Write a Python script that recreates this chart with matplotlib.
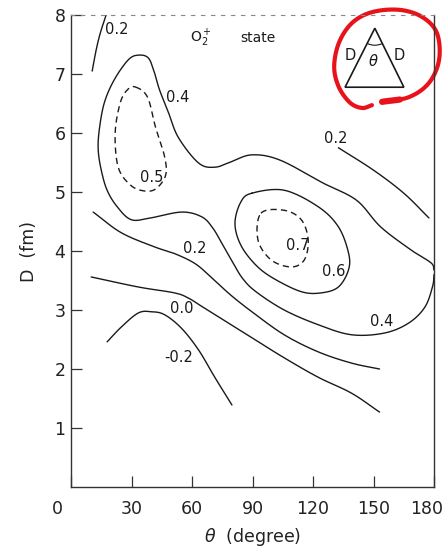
import numpy as np
import matplotlib
matplotlib.use("Agg")
import matplotlib.pyplot as plt
from matplotlib.patches import Arc, Polygon
from matplotlib.transforms import ScaledTranslation

# ---------------- data (theta in degrees, D in fm) ----------------
c02_top_theta = [10.5, 12.5, 14.5, 17.4]
c02_top_D = [7.05, 7.41, 7.69, 8.0]

c04_theta = [180, 178.5, 168.5, 153.5, 141.6, 125.1, 103.7, 89.7, 79.3, 71.3, 63.3, 53.3,
             48.4, 43.9, 41.4, 38.4, 33.4, 28.4, 21.4, 16.5, 14.0, 13.5, 15.0, 17.9,
             22.9, 29.9, 39.4, 54.8, 64.8, 70.3, 75.3, 80.3, 85.2, 91.7, 105.7, 122.6,
             139.1, 155.5, 167.5, 175.5, 179.3, 180]
c04_D = [3.68, 3.80, 4.02, 4.41, 4.86, 5.15, 5.54, 5.63, 5.51, 5.42, 5.49, 5.92,
         6.34, 6.73, 7.02, 7.27, 7.32, 7.24, 6.90, 6.51, 6.05, 5.71, 5.37, 5.03,
         4.75, 4.53, 4.56, 4.66, 4.58, 4.39, 4.10, 3.80, 3.53, 3.31, 3.00, 2.75,
         2.58, 2.61, 2.78, 3.05, 3.40, 3.60]

c05_theta = [31.9, 37.9, 41.9, 46.4, 46.9, 41.9, 35.9, 29.4, 23.4, 21.9, 24.4, 27.9]
c05_D = [6.78, 6.61, 6.10, 5.60, 5.28, 5.05, 5.02, 5.12, 5.42, 6.00, 6.51, 6.73]

c06_theta = [89.7, 84.2, 81.3, 84.2, 91.7, 100.7, 114.2, 124.1, 132.6, 137.6, 137.6, 132.6, 122.6, 105.7]
c06_D = [4.98, 4.83, 4.47, 4.10, 3.76, 3.53, 3.31, 3.29, 3.39, 3.68, 3.97, 4.41, 4.75, 5.03]

c07_theta = [94.2, 105.7, 114.2, 117.6, 115.7, 109.2, 99.2, 92.7]
c07_D = [4.64, 4.69, 4.53, 4.19, 3.85, 3.73, 3.85, 4.19]

c02_low_theta = [11.0, 24.9, 41.4, 51.8, 61.8, 70.3, 79.3, 89.7, 105.7, 122.6, 139.1, 153.0]
c02_low_D = [4.66, 4.31, 4.07, 3.95, 3.78, 3.53, 3.25, 2.97, 2.58, 2.29, 2.10, 2.00]

c02_right_theta = [132.6, 150.0, 165.0, 177.5]
c02_right_D = [5.75, 5.37, 4.98, 4.56]

c00_theta = [10.0, 33.4, 51.3, 58.3, 66.3, 89.7, 105.7, 122.6, 139.1, 153.0]
c00_D = [3.56, 3.39, 3.29, 3.20, 3.03, 2.53, 2.19, 1.86, 1.59, 1.27]

cm02_theta = [17.9, 24.9, 33.4, 39.9, 46.4, 54.8, 63.3, 71.3, 79.8]
cm02_D = [2.46, 2.71, 2.95, 2.97, 2.92, 2.69, 2.32, 1.86, 1.39]

label_text = ["0.2", "0.4", "0.5", "0.2", "0.7", "0.6", "0.4", "0.0", "-0.2", "0.2"]
label_theta = [22.9, 52.8, 39.9, 61.3, 112.2, 130.1, 154.0, 54.8, 53.3, 131.1]
label_D = [7.75, 6.61, 5.25, 4.05, 4.10, 3.66, 2.81, 3.02, 2.20, 5.90]

x_ticks = [0, 30, 60, 90, 120, 150, 180]
y_ticks = [1, 2, 3, 4, 5, 6, 7, 8]


def smooth(xs, ys, closed=False, n=14):
    sx, sy = 363 / 180.0, 472 / 8.0
    P = np.column_stack([np.asarray(xs, float) * sx, np.asarray(ys, float) * sy])
    if closed:
        pts = np.vstack([P[-1], P, P[0], P[1]])
    else:
        pts = np.vstack([2 * P[0] - P[1], P, 2 * P[-1] - P[-2]])
    out = []
    t = np.linspace(0, 1, n, endpoint=False)[:, None]
    for i in range(len(pts) - 3):
        p0, p1, p2, p3 = pts[i], pts[i + 1], pts[i + 2], pts[i + 3]
        seg = 0.5 * ((2 * p1) + (-p0 + p2) * t + (2 * p0 - 5 * p1 + 4 * p2 - p3) * t ** 2
                     + (-p0 + 3 * p1 - 3 * p2 + p3) * t ** 3)
        out.append(seg)
    out.append(pts[-2][None, :])
    out = np.vstack(out)
    return out[:, 0] / sx, out[:, 1] / sy


fig = plt.figure(figsize=(4.44, 5.52), dpi=100)
ax = fig.add_axes([71 / 444, 1 - 487 / 552, 363 / 444, 472 / 552])
ax.set_xlim(0, 180)
ax.set_ylim(0, 8)

lc = "#1a1a1a"
lw = 1.0
solid = [(c02_top_theta, c02_top_D, False), (c04_theta, c04_D, False),
         (c06_theta, c06_D, True), (c02_low_theta, c02_low_D, False),
         (c02_right_theta, c02_right_D, False), (c00_theta, c00_D, False),
         (cm02_theta, cm02_D, False)]
for xs, ys, cl in solid:
    sxs, sys_ = smooth(xs, ys, closed=cl)
    ax.plot(sxs, sys_, color=lc, lw=lw, solid_capstyle="round", clip_on=True)
for xs, ys in [(c05_theta, c05_D), (c07_theta, c07_D)]:
    sxs, sys_ = smooth(xs, ys, closed=True)
    ax.plot(sxs, sys_, color=lc, lw=lw, dashes=(4.5, 3.0))

for t, xv, yv in zip(label_text, label_theta, label_D):
    ax.text(xv, yv, t, fontsize=10.5, ha="center", va="center", color=lc)

ax.text(64.5, 7.61, r"O$_2^+$", fontsize=10, ha="center", va="center", color=lc)
ax.text(92.7, 7.61, "state", fontsize=10, ha="center", va="center", color=lc)

# inset triangle diagram
tri = Polygon([[0.837, 0.972], [0.755, 0.847], [0.917, 0.847]], closed=True, fill=False,
              edgecolor=lc, lw=1.2, transform=ax.transAxes)
ax.add_patch(tri)
ax.add_patch(Arc((0.837, 0.972), 2 * 17 / 363, 2 * 17 / 472, theta1=238, theta2=302,
                 transform=ax.transAxes, color=lc, lw=0.8))
ax.text(0.770, 0.915, "D", transform=ax.transAxes, fontsize=10.5, ha="center", va="center", color=lc)
ax.text(0.903, 0.915, "D", transform=ax.transAxes, fontsize=10.5, ha="center", va="center", color=lc)
ax.text(0.834, 0.903, r"$\theta$", transform=ax.transAxes, fontsize=10.5, ha="center", va="center", color=lc)

# red hand-drawn loop
loop_x = [0.857, 0.931, 0.986, 1.014, 1.008, 0.967, 0.904, 0.829, 0.774, 0.738, 0.725, 0.738, 0.769, 0.802, 0.829]
loop_y = [0.816, 0.826, 0.856, 0.905, 0.962, 0.996, 1.011, 1.006, 0.983, 0.941, 0.890, 0.847, 0.814, 0.803, 0.809]
lx, ly = smooth(np.array(loop_x) * 180, np.array(loop_y) * 8, closed=False)
ax.plot(lx / 180, ly / 8, color="#e8121a", lw=3.0, transform=ax.transAxes, clip_on=False,
        solid_capstyle="round")
ax.plot(lx[:10] / 180, ly[:10] / 8, color="#e8121a", lw=4.5, transform=ax.transAxes, clip_on=False,
        solid_capstyle="round")

# axes styling
for s in ["left", "bottom", "right"]:
    ax.spines[s].set_color("#333333")
    ax.spines[s].set_linewidth(1.0)
ax.spines["top"].set_color("#888888")
ax.spines["top"].set_linewidth(0.8)
ax.spines["top"].set_linestyle((0, (3, 6)))

ax.set_xticks(x_ticks)
ax.set_xticklabels([str(v) for v in x_ticks])
ax.set_yticks(y_ticks)
ax.set_yticklabels([str(v) for v in y_ticks])
ax.tick_params(axis="both", direction="in", length=8, width=0.9, color="#333333",
               labelsize=12.5, labelcolor="#222222")
ax.tick_params(axis="x", pad=9)
ax.tick_params(axis="y", pad=4)
# shift the "0" label slightly left like the original, keep "180" inside the figure
labs = ax.get_xticklabels()
labs[0].set_transform(labs[0].get_transform() + ScaledTranslation(-14 / 100, 0, fig.dpi_scale_trans))
labs[-1].set_transform(labs[-1].get_transform() + ScaledTranslation(-7 / 100, 0, fig.dpi_scale_trans))

ax.set_xlabel(r"$\theta$  (degree)", fontsize=12.5, color="#222222", labelpad=6)
ax.set_ylabel("D  (fm)", fontsize=12.5, color="#222222", labelpad=12)

fig.savefig("out.png", dpi=100)
